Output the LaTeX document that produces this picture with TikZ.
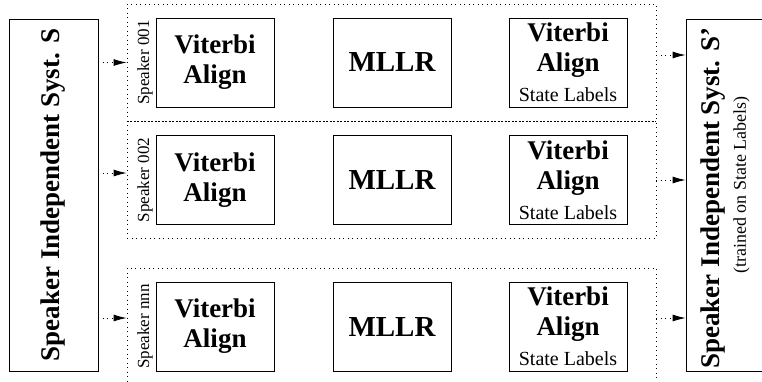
\documentclass[tikz,border=0pt]{standalone}
\usepackage{fontspec}
\setmainfont{Liberation Serif}
\usetikzlibrary{positioning,arrows.meta}

\newcommand{\vbf}{\fontsize{27}{30}\selectfont\bfseries}
\newcommand{\mbf}{\fontsize{29}{32}\selectfont\bfseries}
\newcommand{\sysf}{\fontsize{27}{30}\selectfont\bfseries}
\newcommand{\labf}{\fontsize{20}{24}\selectfont\mdseries}
\newcommand{\spkf}{\fontsize{17}{20}\selectfont}
\newcommand{\trnf}{\fontsize{18}{20}\selectfont}

\begin{document}
\begin{tikzpicture}[x=1pt,y=-1pt,
  every node/.style={align=center,inner sep=0pt},
  box/.style={draw,line width=0.8pt,minimum width=118pt,minimum height=89pt},
  side/.style={draw,line width=0.8pt,minimum width=89pt,minimum height=352pt},
  grp/.style={draw,line width=0.8pt,dash pattern=on 1pt off 3.5pt},
  cut/.style={line width=0.8pt,dash pattern=on 2pt off 1.5pt},
  arr/.style={line width=0.8pt,dash pattern=on 1pt off 3.5pt,
    -{Latex[length=13pt,width=7pt]}}
]
\useasboundingbox (0,0) rectangle (762,381);

% speaker independent systems
\node[side] (S) at (53.5,195) {};
\node[rotate=90,font=\sysf] at (S) {Speaker Independent Syst. S};
\node[side] (S2) at (730.5,195) {};
\node[rotate=90,font=\sysf] at ([xshift=27pt,yshift=-3pt]S2.west) {Speaker Independent Syst. S'};
\node[rotate=90,font=\trnf] at ([xshift=56pt,yshift=10pt]S2.west) {(trained on State Labels)};

% speaker groups
\node[grp,minimum width=529pt,minimum height=234pt] (g12) at (391.5,121) {};
\node[grp,minimum width=529pt,minimum height=130pt] (g3) at (391.5,333) {};
\draw[cut] (g12.west) -- (g12.east);

% speaker 001
\node[rotate=90,font=\spkf] (sp1) at (145,62.5) {Speaker 001};
\node[box,font=\vbf] (v1) at (215,62.5) {Viterbi\\Align};
\node[box,font=\mbf] (m1) at (392,62.5) {MLLR};
\node[box,font=\vbf] (l1) at (568,62.5) {Viterbi\\Align\\{\labf State Labels}};

% speaker 002
\node[rotate=90,font=\spkf] (sp2) at (145,180) {Speaker 002};
\node[box,font=\vbf] (v2) at (215,180) {Viterbi\\Align};
\node[box,font=\mbf] (m2) at (392,180) {MLLR};
\node[box,font=\vbf] (l2) at (568,180) {Viterbi\\Align\\{\labf State Labels}};

% speaker nnn
\node[rotate=90,font=\spkf] (sp3) at (145,326.5) {Speaker nnn};
\node[box,font=\vbf] (v3) at (215,326.5) {Viterbi\\Align};
\node[box,font=\mbf] (m3) at (392,326.5) {MLLR};
\node[box,font=\vbf] (l3) at (568,326.5) {Viterbi\\Align\\{\labf State Labels}};

% arrows
\draw[arr] (S.east |- v1) -- (g12.west |- v1);
\draw[arr] ([yshift=7pt]S.east |- v2) -- ([yshift=7pt]g12.west |- v2);
\draw[arr] ([yshift=8.5pt]S.east |- v3) -- ([yshift=8.5pt]g3.west |- v3);
\draw[arr] ([yshift=7.5pt]g12.east |- l1) -- ([yshift=7.5pt]S2.west |- l1);
\draw[arr] (g12.east |- l2) -- (S2.west |- l2);
\draw[arr] ([yshift=8.5pt]g3.east |- l3) -- ([yshift=8.5pt]S2.west |- l3);
\end{tikzpicture}
\end{document}
